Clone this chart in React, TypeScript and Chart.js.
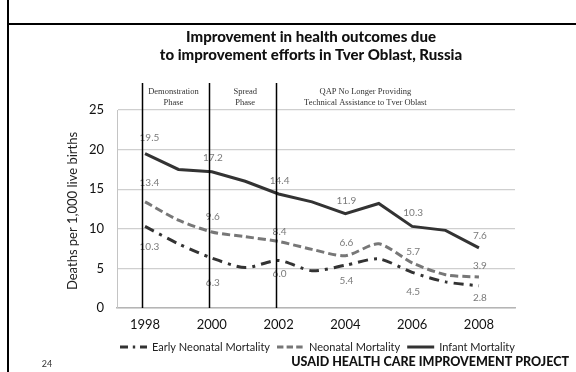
import { useEffect, useRef } from "react";
import { Chart, registerables } from "chart.js";

Chart.register(...registerables);

const years = [1998, 1999, 2000, 2001, 2002, 2003, 2004, 2005, 2006, 2007, 2008];
const infantMortality = [19.5, 17.5, 17.2, 16.0, 14.4, 13.4, 11.9, 13.2, 10.3, 9.8, 7.6];
const neonatalMortality = [13.4, 11.1, 9.6, 9.0, 8.4, 7.4, 6.6, 8.1, 5.7, 4.2, 3.9];
const earlyNeonatalMortality = [10.3, 8.1, 6.3, 5.1, 6.0, 4.7, 5.4, 6.2, 4.5, 3.3, 2.8];
const labelledYears = [1998, 2000, 2002, 2004, 2006, 2008];
const xTickYears = [1998, 2000, 2002, 2004, 2006, 2008];
const yTickValues = [0, 5, 10, 15, 20, 25];
const phaseLineYears = [1998, 2000, 2002];
const phaseLabelYears = [1998.85, 2001, 2004.6];
const phaseLabels = [
  ["Demonstration", "Phase"],
  ["Spread", "Phase"],
  ["QAP No Longer Providing", "Technical Assistance to Tver Oblast"],
];
const titleLines = [
  "Improvement in health outcomes due",
  "to improvement efforts in Tver Oblast, Russia",
];
const yAxisTitle = "Deaths per 1,000 live births";
const footerText = "USAID HEALTH CARE IMPROVEMENT PROJECT";
const pageNumber = "24";

const SANS = "Lato, 'Open Sans', sans-serif";

// vertical pixel offsets of the value labels (styling, per dataset, per labelled year)
const labelOffsets = [
  [-16, -14, -13, -13, -14, -12],
  [-19, -15, -10, -13, -11, -11],
  [20, 25, 13, 16, 19, 12],
];

const decorPlugin = {
  id: "decor",
  beforeDraw(chart: any) {
    const { ctx, width, height } = chart;
    ctx.save();
    ctx.fillStyle = "#ffffff";
    ctx.fillRect(0, 0, width, height);
    ctx.strokeStyle = "#000000";
    ctx.lineWidth = 2;
    ctx.beginPath();
    ctx.moveTo(8, 0);
    ctx.lineTo(8, height);
    ctx.moveTo(8, 24);
    ctx.lineTo(width, 24);
    ctx.stroke();
    ctx.restore();
  },
  afterDatasetsDraw(chart: any) {
    const { ctx, chartArea } = chart;
    const xs = chart.scales.x;
    ctx.save();
    // data labels
    ctx.font = `10px ${SANS}`;
    ctx.fillStyle = "#7a7a7a";
    ctx.textBaseline = "middle";
    chart.data.datasets.forEach((ds: any, di: number) => {
      const meta = chart.getDatasetMeta(di);
      let k = 0;
      meta.data.forEach((pt: any, i: number) => {
        const yr = years[i];
        if (!labelledYears.includes(yr)) return;
        const v = ds.data[i].y;
        const txt = v.toFixed(1);
        const dy = labelOffsets[di][k++];
        if (i === 0) {
          ctx.textAlign = "left";
          ctx.fillText(txt, pt.x - 5.5, pt.y + dy);
        } else {
          ctx.textAlign = "center";
          ctx.fillText(txt, pt.x + 1, pt.y + dy);
        }
      });
    });
    // phase lines
    ctx.strokeStyle = "#000000";
    ctx.lineWidth = 1.5;
    ctx.beginPath();
    phaseLineYears.forEach((yr) => {
      const x = Math.round(xs.getPixelForValue(yr)) - 2.5;
      ctx.moveTo(x, 83);
      ctx.lineTo(x, chartArea.bottom);
    });
    ctx.stroke();
    ctx.restore();
  },
  afterDraw(chart: any) {
    const { ctx, width } = chart;
    const xs = chart.scales.x;
    ctx.save();
    // title
    ctx.fillStyle = "#111111";
    ctx.font = `900 15px ${SANS}`;
    ctx.textAlign = "center";
    ctx.textBaseline = "middle";
    ctx.fillText(titleLines[0], 311, 37);
    ctx.fillText(titleLines[1], 311, 55);
    // phase labels
    ctx.font = "8.5px 'Liberation Serif', serif";
    ctx.fillStyle = "#333333";
    phaseLabels.forEach((lines, i) => {
      const x = xs.getPixelForValue(phaseLabelYears[i]);
      ctx.fillText(lines[0], x, 92);
      ctx.fillText(lines[1], x, 103);
    });
    // y axis title
    ctx.save();
    ctx.translate(73, 211);
    ctx.rotate(-Math.PI / 2);
    ctx.font = `13px ${SANS}`;
    ctx.fillStyle = "#222222";
    ctx.fillText(yAxisTitle, 0, 0);
    ctx.restore();
    // legend
    const order = [2, 1, 0];
    let lx = 120;
    const ly = 347;
    ctx.font = `11px ${SANS}`;
    ctx.textAlign = "left";
    order.forEach((di) => {
      const ds = chart.data.datasets[di];
      ctx.save();
      ctx.strokeStyle = ds.borderColor;
      ctx.lineWidth = 3;
      ctx.setLineDash((ds.borderDash || []).map((d: number) => d * 0.8));
      ctx.beginPath();
      ctx.moveTo(lx, ly);
      ctx.lineTo(lx + 27, ly);
      ctx.stroke();
      ctx.restore();
      lx += 32;
      ctx.fillStyle = "#222222";
      ctx.fillText(ds.label, lx, ly);
      lx += ctx.measureText(ds.label).width + 7;
    });
    // footer
    ctx.font = `900 12.5px ${SANS}`;
    ctx.fillStyle = "#111111";
    ctx.textAlign = "right";
    ctx.fillText(footerText, width - 7, 362);
    ctx.font = `9px ${SANS}`;
    ctx.fillStyle = "#333333";
    ctx.textAlign = "center";
    ctx.fillText(pageNumber, 47, 364);
    ctx.restore();
  },
};

export default function App() {
  const canvasRef = useRef<HTMLCanvasElement | null>(null);

  useEffect(() => {
    const canvas = canvasRef.current;
    if (!canvas) return;
    const toPoints = (arr: number[]) => years.map((yr, i) => ({ x: yr, y: arr[i] }));
    const chart = new Chart(canvas, {
      type: "line",
      data: {
        datasets: [
          {
            label: "Infant Mortality",
            data: toPoints(infantMortality),
            borderColor: "#333333",
            borderWidth: 3,
            pointRadius: 0,
            tension: 0,
            fill: false,
          },
          {
            label: "Neonatal Mortality",
            data: toPoints(neonatalMortality),
            borderColor: "#777777",
            borderWidth: 3,
            borderDash: [8, 4],
            pointRadius: 0,
            tension: 0.25,
            fill: false,
          },
          {
            label: "Early Neonatal Mortality",
            data: toPoints(earlyNeonatalMortality),
            borderColor: "#333333",
            borderWidth: 3,
            borderDash: [10, 6, 3, 6],
            pointRadius: 0,
            tension: 0.25,
            fill: false,
          },
        ],
      },
      options: {
        responsive: false,
        animation: false,
        layout: { padding: { left: 60, right: 61, top: 110, bottom: 34 } },
        plugins: {
          legend: { display: false },
          title: { display: false },
          tooltip: { enabled: false },
        },
        scales: {
          x: {
            type: "linear",
            min: 1997.16,
            max: 2009.08,
            afterFit: (s: any) => {
              s.height = 30;
            },
            afterBuildTicks: (s: any) => {
              s.ticks = xTickYears.map((v) => ({ value: v }));
            },
            ticks: {
              callback: (v: any) => String(v),
              font: { family: SANS, size: 13 },
              color: "#111111",
              padding: 9,
              maxRotation: 0,
              autoSkip: false,
            },
            grid: { display: false, drawTicks: false },
            border: { color: "#b5b5b5", width: 1.5 },
          },
          y: {
            min: 0,
            max: 25,
            afterFit: (s: any) => {
              s.width = 57;
            },
            afterBuildTicks: (s: any) => {
              s.ticks = yTickValues.map((v) => ({ value: v }));
            },
            ticks: {
              font: { family: SANS, size: 13 },
              color: "#111111",
              padding: 13,
            },
            grid: { color: "#cfcfcf", lineWidth: 1.2, drawTicks: false },
            border: { color: "#c4c4c4", width: 1 },
          },
        },
      },
      plugins: [decorPlugin],
    });
    return () => chart.destroy();
  }, []);

  return (
    <div style={{ position: "absolute", left: 0, top: 0, width: 576, height: 372, background: "#fff" }}>
      <canvas ref={canvasRef} width={576} height={372} style={{ display: "block", width: 576, height: 372 }} />
    </div>
  );
}
